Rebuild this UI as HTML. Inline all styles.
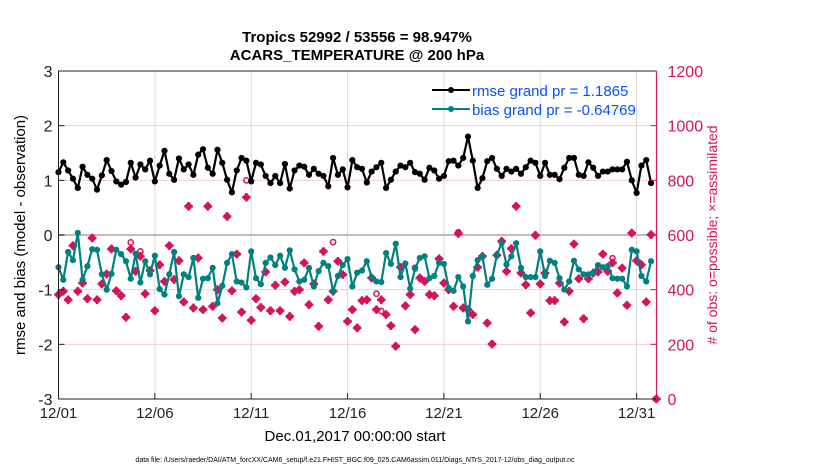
<!DOCTYPE html>
<html><head><meta charset="utf-8"><style>
html,body{margin:0;padding:0;background:#fff;}
svg{display:block;font-family:"Liberation Sans",Arial,sans-serif;}
</style></head><body>
<svg id="chart" width="830" height="470" viewBox="0 0 830 470">
<g id="grid"></g>
<g id="marks"></g>
<g id="axes"></g>
<text x="357" y="42" text-anchor="middle" font-size="15" font-weight="bold">Tropics 52992 / 53556 = 98.947%</text>
<text x="357" y="60" text-anchor="middle" font-size="15" font-weight="bold">ACARS_TEMPERATURE @ 200 hPa</text>
<text transform="translate(25,235) rotate(-90)" text-anchor="middle" font-size="15">rmse and bias (model - observation)</text>
<text transform="translate(717,235) rotate(-90)" text-anchor="middle" font-size="14" fill="#d4145a"># of obs: o=possible; ×=assimilated</text>
<text x="355" y="441" text-anchor="middle" font-size="15">Dec.01,2017 00:00:00 start</text>
<text x="355" y="462" text-anchor="middle" font-size="7">data file: /Users/raeder/DAI/ATM_forcXX/CAM6_setup/f.e21.FHIST_BGC.f09_025.CAM6assim.011/Diags_NTrS_2017-12/obs_diag_output.nc</text>
<g>
<line x1="432" y1="90" x2="470" y2="90" stroke="#000" stroke-width="2"/><circle cx="451" cy="90" r="3" fill="#000"/>
<text x="472" y="96" font-size="15" fill="#0a4fff">rmse grand pr = 1.1865</text>
<line x1="432" y1="109" x2="470" y2="109" stroke="#008080" stroke-width="2"/><circle cx="451" cy="109" r="3" fill="#008080"/>
<text x="472" y="115" font-size="15" fill="#0a4fff">bias grand pr = -0.64769</text>
</g>
</svg>
<script>
const rmse=[1.15,1.33,1.18,1.03,0.86,1.25,1.1,1.03,0.83,1.09,
1.37,1.17,0.98,0.92,0.97,1.32,1.05,1.29,1.2,1.36,
0.98,1.27,1.54,1.12,1.01,1.4,1.2,1.29,1.1,1.47,
1.57,1.23,1.12,1.56,1.32,1.01,0.78,1.18,1.41,1.36,
0.98,1.32,1.29,1.08,0.95,1.08,0.95,1.3,0.85,1.18,
1.27,1.25,1.1,1.21,1.12,1.08,0.89,1.41,1.1,
1.2,0.87,1.37,1.24,1.21,0.96,1.16,1.24,1.32,0.86,
1.01,1.16,1.27,1.24,1.32,1.15,1.12,1.01,1.23,1.18,
1.03,1.08,1.35,1.36,1.27,1.41,1.8,1.36,0.86,1.04,
1.35,1.41,1.21,1.08,1.21,1.16,1.21,1.12,1.24,1.36,
1.32,1.08,1.32,1.1,1.1,1.02,1.23,1.41,1.41,1.1,
1.08,1.33,1.23,1.08,1.16,1.16,1.2,1.2,1.2,1.34,
1.0,0.77,1.27,1.37,0.95];
const bias=[-0.59,-0.82,-0.31,-0.46,0.04,-0.82,-0.57,-0.26,-0.27,-0.72,
-1.0,-0.71,-0.27,-0.35,-0.48,-0.8,-0.34,-0.87,-0.48,-0.72,
-0.38,-0.99,-1.09,-0.72,-0.31,-1.12,-0.72,-0.77,-0.42,-1.15,
-0.8,-0.79,-0.6,-1.25,-0.93,-0.51,-0.35,-0.85,-0.87,-0.96,
-0.3,-0.79,-0.9,-0.51,-0.41,-0.55,-0.38,-0.6,-0.28,-0.63,
-0.85,-0.82,-0.6,-0.94,-0.66,-0.51,-0.57,-1.03,-0.75,
-0.55,-0.44,-0.94,-0.69,-0.65,-0.48,-0.77,-0.85,-0.86,-0.33,
-0.53,-0.16,-0.77,-0.52,-0.98,-0.62,-0.42,-0.39,-0.79,-0.75,
-0.51,-0.53,-0.97,-1.02,-0.77,-0.94,-1.58,-0.75,-0.46,-0.39,
-0.91,-0.8,-0.36,-0.15,-0.54,-0.39,-0.15,-0.6,-0.77,-0.77,
-0.77,-0.3,-0.75,-0.47,-0.51,-0.79,-1.0,-0.85,-0.47,-0.63,
-0.72,-0.72,-0.69,-0.55,-0.59,-0.57,-0.79,-0.8,-0.8,-0.94,
-0.27,-0.3,-0.75,-0.85,-0.48];
const obsAssim=[382,394,363,561,394,424,367,589,363,421,
457,549,396,378,299,549,467,522,385,470,
323,491,430,561,437,506,355,705,333,516,
327,705,339,400,296,668,396,530,318,738,
288,367,335,465,323,416,323,428,302,394,
400,498,345,421,266,540,363,394,504,
455,284,327,260,360,363,443,327,363,309,
268,193,482,341,382,254,443,430,382,378,
513,424,400,339,605,333,327,309,482,522,
278,201,526,577,467,550,705,461,418,315,
599,421,461,360,360,424,282,394,567,440,
294,440,461,465,530,467,498,388,479,343,
607,506,491,355,601,0];
const obsPoss=[382,394,363,561,394,424,367,589,363,421,
457,549,396,378,299,573,467,540,385,470,
323,491,430,561,437,506,355,705,333,516,
327,705,339,400,296,668,396,530,318,800,
288,367,335,465,323,416,323,428,302,394,
400,498,345,421,266,540,363,574,504,
455,284,327,260,360,363,443,385,322,309,
268,193,482,341,382,480,443,430,382,378,
513,424,400,339,610,333,327,309,482,522,
278,201,526,577,467,550,705,461,418,315,
599,421,461,360,360,424,282,394,567,440,
294,440,461,465,530,467,515,388,479,343,
607,506,491,355,601,0];
const xTickLabels=["12/01","12/06","12/11","12/16","12/21","12/26","12/31"];
const xTickDays=[0,5,10,15,20,25,30];
const leftTicks=[-3,-2,-1,0,1,2,3];
const rightTicks=[0,200,400,600,800,1000,1200];
const stepDays=0.25;

const NS="http://www.w3.org/2000/svg";
const X0=58.5,X1=656.5,Y0=71,Y1=399;
const xS=d=>X0+d*19.27;
const yL=v=>Y1-(v+3)/6*(Y1-Y0);
const yR=v=>Y1-v/1200*(Y1-Y0);
function mk(tag,attrs,parent){const e=document.createElementNS(NS,tag);for(const k in attrs)e.setAttribute(k,attrs[k]);parent.appendChild(e);return e;}
const grid=document.getElementById('grid'),marks=document.getElementById('marks'),axes=document.getElementById('axes');

xTickDays.forEach((d,i)=>{
  const l=mk('line',{x1:xS(d),x2:xS(d),y1:Y0,y2:Y1,stroke:'#d8d8d8','stroke-width':1},grid);
  
  
  const t=mk('line',{x1:xS(d),x2:xS(d),y1:Y1,y2:Y1-6,stroke:'#222'},axes);
  
  
  const tx=mk('text',{x:xS(d),y:Y1+19,'text-anchor':'middle','font-size':15,fill:'#222'},axes);
  tx.textContent=xTickLabels[i];
  
  
});
rightTicks.forEach(v=>{
  if(v>0&&v<1200){
    const g=mk('line',{x1:X0,x2:X1,y1:yR(v),y2:yR(v),stroke:v===600?'#c8b8bc':'#f3cdd9','stroke-width':v===600?2:1},grid);
    
    
  }
  const t=mk('line',{x1:X1,x2:X1-6,y1:yR(v),y2:yR(v),stroke:'#d4145a'},axes);
  
  
  const tx=mk('text',{x:X1+11,y:yR(v)+6,'font-size':16,fill:'#d4145a'},axes);
  tx.textContent=v;
  
  
});
leftTicks.forEach(v=>{
  const t=mk('line',{x1:X0,x2:X0+6,y1:yL(v),y2:yL(v),stroke:'#222'},axes);
  
  
  const tx=mk('text',{x:X0-6,y:yL(v)+6,'text-anchor':'end','font-size':16,fill:'#222'},axes);
  tx.textContent=v;
  
  
});
const fr=mk('path',{d:`M${X1},${Y0}H${X0}V${Y1}H${X1}`,fill:'none',stroke:'#222','stroke-width':1},axes);


const ra=mk('line',{x1:X1,x2:X1,y1:Y0,y2:Y1,stroke:'#d4145a','stroke-width':1.2},axes);



obsPoss.forEach((v,i)=>{
  const c=mk('circle',{cx:xS(i*stepDays),cy:yR(v),r:2.6,fill:'#fff',stroke:'#d4145a','stroke-width':1.5},marks);
  
  
});
obsAssim.forEach((v,i)=>{
  const x=i===obsAssim.length-1?X1:xS(i*stepDays),y=yR(v);
  const g=mk('g',{},marks);
  
  
  mk('path',{d:`M${x-4.3},${y}H${x+4.3}M${x},${y-4.3}V${y+4.3}`,stroke:'#d4145a','stroke-width':2.4},g);
  mk('circle',{cx:x,cy:y,r:3.4,fill:'#d4145a'},g);
});
function series(vals,color,name){
  const d=vals.map((v,i)=>(i?'L':'M')+xS(i*stepDays).toFixed(1)+','+yL(v).toFixed(1)).join('');
  const p=mk('path',{d:d,fill:'none',stroke:color,'stroke-width':2.2,'stroke-linejoin':'round'},marks);
  
  
  vals.forEach((v,i)=>{
    const c=mk('circle',{cx:xS(i*stepDays),cy:yL(v),r:3.1,fill:color},marks);
    
    
  });
}
series(bias,'#008080','bias');
series(rmse,'#000','rmse');
</script>
</body></html>
